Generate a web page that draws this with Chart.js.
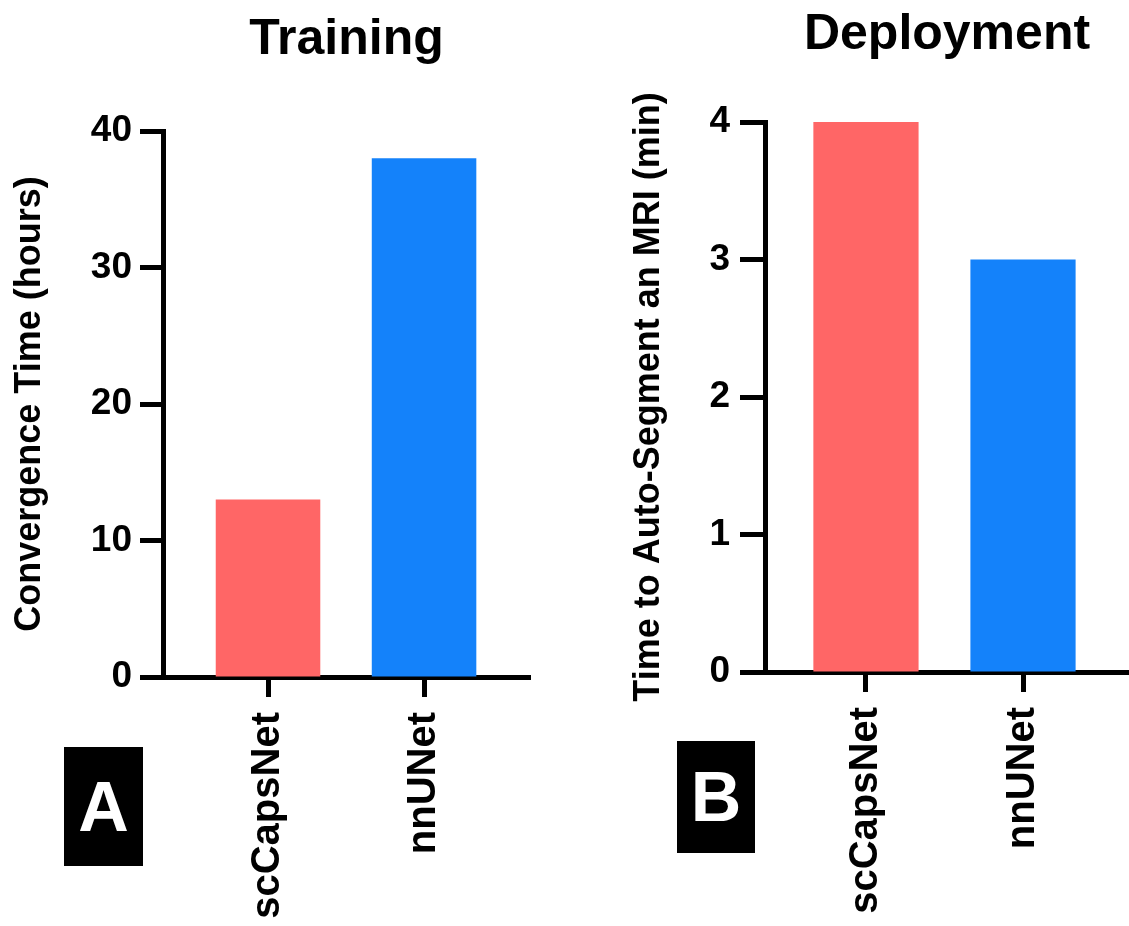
<!DOCTYPE html>
<html>
<head>
<meta charset="utf-8">
<script src="https://cdn.jsdelivr.net/npm/chart.js@4.4.1/dist/chart.umd.min.js"></script>
<style>
body { margin: 0; background: #fff; width: 1129px; height: 926px; overflow: hidden; position: relative; font-family: "Liberation Sans", Arial, sans-serif; }
canvas { position: absolute; top: 0; }
#trainChart { left: 0; }
#deployChart { left: 565px; }
.panel-tag { position: absolute; background: #000; color: #fff; font-weight: bold; font-size: 70px; display: flex; align-items: center; justify-content: center; }
</style>
</head>
<body>
<canvas id="trainChart" width="565" height="926"></canvas>
<canvas id="deployChart" width="564" height="926"></canvas>
<div class="panel-tag" style="left:64px;top:747px;width:79px;height:119px;">A</div>
<div class="panel-tag" style="left:677px;top:741px;width:78px;height:112px;">B</div>
<script>
const categories = ['scCapsNet', 'nnUNet'];
const trainingHours = [13, 38];
const deploymentMinutes = [4, 3];
const trainingTicks = [0, 10, 20, 30, 40];
const deploymentTicks = [0, 1, 2, 3, 4];
const barColors = ['#ff6666', '#1482fa'];

Chart.defaults.font.family = '"Liberation Sans", Arial, sans-serif';
Chart.defaults.color = '#000';

function renderPanel(ctx, o) {
    return new Chart(ctx, {
        type: 'bar',
        data: {
            datasets: [{
                data: o.values.map((v, i) => ({ x: i, y: v })),
                backgroundColor: barColors,
                categoryPercentage: 1,
                barPercentage: 0.67
            }]
        },
        options: {
            responsive: false,
            animation: false,
            layout: { padding: { left: 0, right: o.padRight, top: 0, bottom: 0 } },
            plugins: {
                legend: { display: false },
                tooltip: { enabled: false },
                title: {
                    display: true, text: o.title, fullSize: false, color: '#000',
                    font: { size: 50, weight: 'bold', lineHeight: 1.2 },
                    padding: o.titlePad
                }
            },
            scales: {
                x: {
                    type: 'linear', min: o.xMin, max: o.xMax, offset: false,
                    afterBuildTicks: s => { s.ticks = categories.map((_, i) => ({ value: i })); },
                    afterFit: s => { s.height = o.xHeight; },
                    grid: { offset: false, drawOnChartArea: false, tickLength: 20, tickWidth: 5, color: '#000' },
                    border: { width: 5, color: '#000' },
                    ticks: {
                        autoSkip: false, minRotation: 90, maxRotation: 90, padding: 15, color: '#000',
                        font: { size: 40, weight: 'bold' },
                        callback: v => categories[v]
                    }
                },
                y: {
                    min: 0, max: o.ticks[o.ticks.length - 1],
                    afterBuildTicks: s => { s.ticks = o.ticks.map(v => ({ value: v })); },
                    afterFit: s => { s.width = o.yWidth; },
                    grid: { drawOnChartArea: false, tickLength: o.yTickLen, tickWidth: 5, color: '#000' },
                    border: { width: 5, color: '#000' },
                    ticks: { padding: o.yTickPad, color: '#000', font: { size: 37, weight: 'bold' } },
                    title: {
                        display: true, text: o.yTitle, color: '#000',
                        font: { size: 36, weight: 'bold', lineHeight: 1.2 },
                        padding: { top: o.yTitlePad, bottom: 0 }
                    }
                }
            }
        }
    });
}

renderPanel(document.getElementById('trainChart'), {
    values: trainingHours, ticks: trainingTicks,
    title: 'Training', yTitle: 'Convergence Time (hours)',
    titlePad: { top: 10, bottom: 61 },
    padRight: 35, yWidth: 163, xHeight: 249,
    xMin: -0.673, xMax: 1.679,
    yTickLen: 23, yTickPad: 8, yTitlePad: 8
});

renderPanel(document.getElementById('deployChart'), {
    values: deploymentMinutes, ticks: deploymentTicks,
    title: 'Deployment', yTitle: 'Time to Auto-Segment an MRI (min)',
    titlePad: { top: 5, bottom: 57 },
    padRight: 0, yWidth: 200, xHeight: 254,
    xMin: -0.643, xMax: 1.675,
    yTickLen: 25, yTickPad: 10, yTitlePad: 62
});
</script>
</body>
</html>
